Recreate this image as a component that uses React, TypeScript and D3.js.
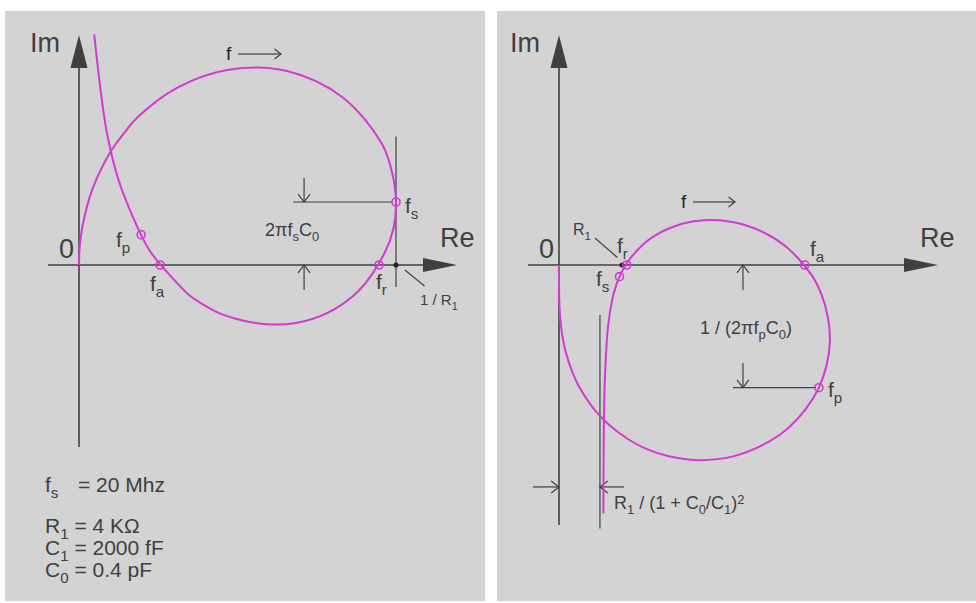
import * as d3 from "d3";

// crystal: fs = 20 MHz, R1 = 4 kOhm, C1 = 2000 fF, C0 = 0.4 pF

// left: admittance locus, Re / Im in mS
const admRe = [0, 0.0006, 0.0026, 0.0105, 0.025, 0.035, 0.047, 0.078, 0.118, 0.164, 0.208, 0.239, 0.247, 0.25, 0.248, 0.241, 0.221, 0.196, 0.171, 0.148, 0.129, 0.1125, 0.099, 0.087, 0.078, 0.056, 0.043, 0.031, 0.022, 0.017, 0.012];
const admIm = [0, 0.015, 0.03, 0.06, 0.09, 0.104, 0.118, 0.141, 0.155, 0.154, 0.133, 0.096, 0.073, 0.05, 0.029, 0.0095, -0.02, -0.038, -0.046, -0.047, -0.044, -0.039, -0.032, -0.024, -0.015, 0.011, 0.037, 0.068, 0.105, 0.139, 0.183];
const admMarks = [
  { name: "fs", re: 0.25, im: 0.05 },
  { name: "fr", re: 0.2366, im: 0 },
  { name: "fa", re: 0.064, im: 0 },
  { name: "fp", re: 0.049, im: 0.024 },
];

// right: impedance locus, Re / Im in kOhm
const impRe = [2.82, 2.85, 2.92, 3.11, 3.4, 3.6, 3.84, 4.14, 4.5, 5.46, 6.12, 6.94, 7.94, 9.18, 10.69, 12.44, 14.32, 16.03, 16.67, 17.07, 17.2, 16.99, 16.48, 15.65, 14.63, 13.47, 11.05, 8.82, 6.97, 5.51, 4.39, 3.17, 2.34, 1.94, 1.26, 0.86, 0.45, 0.26, 0.107, 0.029, 0.005, 0];
const impIm = [-16.4, -10.35, -7.35, -4.09, -2.18, -1.44, -0.77, -0.16, 0.41, 1.47, 1.96, 2.39, 2.75, 2.95, 2.89, 2.41, 1.29, -0.65, -1.95, -3.43, -5.01, -6.62, -8.14, -9.53, -10.69, -11.58, -12.63, -12.88, -12.63, -12.12, -11.5, -10.54, -9.66, -9.12, -8.0, -7.11, -5.83, -4.95, -3.84, -2.7, -1.72, 0];
const impMarks = [
  { name: "fs", re: 3.84, im: -0.77 },
  { name: "fr", re: 4.3, im: 0 },
  { name: "fa", re: 15.6, im: 0 },
  { name: "fp", re: 16.5, im: -8.1 },
];

const params = [
  ["R", "1", " = 4 KΩ"],
  ["C", "1", " = 2000 fF"],
  ["C", "0", " = 0.4 pF"],
];

const W = 976;
const H = 603;
const MAG = "#d23ad2";
const INK = "#404040";
const BG = "#d3d3d3";
const FONT = "'Liberation Sans', Arial, sans-serif";

// left scales (mS -> px)
const xL = d3.scaleLinear().domain([0, 0.25]).range([79, 396]);
const yL = d3.scaleLinear().domain([0, 0.1]).range([265, 139]);
// right scales (kOhm -> px)
const xR = d3.scaleLinear().domain([0, 10]).range([559, 716.5]);
const yR = d3.scaleLinear().domain([0, -10]).range([265, 416.5]);

type Part = [string, number?];

function Label({ x, y, size, parts, anchor }: { x: number; y: number; size: number; parts: Part[]; anchor?: string }) {
  let prev = 0;
  return (
    <text x={x} y={y} fontSize={size} fill={INK} textAnchor={anchor || "start"}>
      {parts.map(([t, s], i) => {
        const cur = s || 0;
        const dy = (cur - prev) * size * 0.3;
        prev = cur;
        return (
          <tspan key={i} dy={dy} fontSize={cur ? size * 0.72 : size}>
            {t}
          </tspan>
        );
      })}
    </text>
  );
}

// open V arrow head at tip, direction "up" | "down" | "left" | "right"
function Head({ x, y, dir, s = 6 }: { x: number; y: number; dir: string; s?: number }) {
  const l = s * 1.3;
  let pts = "";
  if (dir === "down") pts = `${x - s},${y - l} ${x},${y} ${x + s},${y - l}`;
  if (dir === "up") pts = `${x - s},${y + l} ${x},${y} ${x + s},${y + l}`;
  if (dir === "right") pts = `${x - l},${y - s} ${x},${y} ${x - l},${y + s}`;
  if (dir === "left") pts = `${x + l},${y - s} ${x},${y} ${x + l},${y + s}`;
  return <polyline points={pts} fill="none" stroke={INK} strokeWidth={1.2} />;
}

function Axes({ ox, oy, yTop, yBot, xLeft, xRight }: { ox: number; oy: number; yTop: number; yBot: number; xLeft: number; xRight: number }) {
  return (
    <g>
      <line x1={ox} y1={yTop + 20} x2={ox} y2={yBot} stroke={INK} strokeWidth={1.6} />
      <line x1={xLeft} y1={oy} x2={xRight - 20} y2={oy} stroke={INK} strokeWidth={1.6} />
      <polygon points={`${ox},${yTop} ${ox - 8.5},${yTop + 33} ${ox + 8.5},${yTop + 33}`} fill={INK} />
      <polygon points={`${xRight},${oy} ${xRight - 34},${oy - 7} ${xRight - 34},${oy + 7}`} fill={INK} />
    </g>
  );
}

export default function App() {
  const lineL = d3
    .line<number>()
    .x((_, i) => xL(admRe[i]))
    .y((d) => yL(d))
    .curve(d3.curveCatmullRom.alpha(0.5));
  const lineR = d3
    .line<number>()
    .x((_, i) => xR(impRe[i]))
    .y((d) => yR(d))
    .curve(d3.curveCatmullRom.alpha(0.5));

  // left dimension geometry
  const dimXL = xL(0.1775);
  const fsY = yL(admMarks[0].im);
  // right dimension geometry
  const dimXR = xR(11.68);
  const fpY = yR(impMarks[3].im);
  const asym = xR(2.6);
  const dimY = yR(-14.65);

  return (
    <div style={{ position: "absolute", left: 0, top: 0 }}>
      <svg width={W} height={H} style={{ display: "block", fontFamily: FONT }}>
        <rect width={W} height={H} fill="#fff" />
        <rect x={5} y={11} width={480} height={590} fill={BG} />
        <rect x={497} y={11} width={479} height={590} fill={BG} />

        {/* ---------- left panel: admittance ---------- */}
        <Axes ox={xL(0)} oy={yL(0)} yTop={35} yBot={447} xLeft={48} xRight={457} />
        <text x={30} y={52} fontSize={27} fill={INK}>Im</text>
        <text x={59} y={258} fontSize={27} fill={INK}>0</text>
        <text x={440} y={247} fontSize={27} fill={INK}>Re</text>

        {/* 1/R1 marker line */}
        <line x1={xL(0.25)} y1={yL(0.102)} x2={xL(0.25)} y2={yL(-0.0175)} stroke={INK} strokeWidth={1.2} />
        <circle cx={xL(0.25)} cy={yL(0)} r={2.5} fill="#222" />
        <line x1={xL(0.257)} y1={yL(-0.004)} x2={xL(0.2725)} y2={yL(-0.0167)} stroke={INK} strokeWidth={1.2} />
        <Label x={420} y={305} size={15} parts={[["1 / R"], ["1", 1]]} />

        {/* 2 pi fs C0 dimension */}
        <line x1={xL(0.1688)} y1={fsY} x2={xL(0.25) - 3} y2={fsY} stroke={INK} strokeWidth={1.2} />
        <line x1={dimXL} y1={yL(0.069)} x2={dimXL} y2={fsY} stroke={INK} strokeWidth={1.2} />
        <Head x={dimXL} y={fsY} dir="down" />
        <line x1={dimXL} y1={yL(0)} x2={dimXL} y2={yL(-0.0198)} stroke={INK} strokeWidth={1.2} />
        <Head x={dimXL} y={yL(0)} dir="up" />
        <Label x={265} y={236} size={18} parts={[["2πf"], ["s", 1], ["C"], ["0", 1]]} />

        <path d={lineL(admIm) || ""} fill="none" stroke={MAG} strokeWidth={2} />
        {admMarks.map((m) => (
          <circle key={m.name} cx={xL(m.re)} cy={yL(m.im)} r={4} fill="none" stroke={MAG} strokeWidth={1.6} />
        ))}
        <Label x={405} y={213} size={21} parts={[["f"], ["s", 1]]} />
        <Label x={376} y={289} size={21} parts={[["f"], ["r", 1]]} />
        <Label x={150} y={291} size={21} parts={[["f"], ["a", 1]]} />
        <Label x={116} y={247} size={21} parts={[["f"], ["p", 1]]} />

        {/* frequency direction */}
        <text x={226} y={60} fontSize={19} fill="#222">f</text>
        <line x1={238} y1={54} x2={281} y2={54} stroke="#222" strokeWidth={1.2} />
        <Head x={281} y={54} dir="right" s={5} />

        {/* parameters */}
        <Label x={45} y={492} size={21} parts={[["f"], ["s", 1]]} />
        <text x={78} y={492} fontSize={21} fill={INK}>= 20 Mhz</text>
        {params.map((p, i) => (
          <Label key={i} x={45} y={533 + i * 22} size={21} parts={[[p[0]], [p[1], 1], [p[2]]]} />
        ))}

        {/* ---------- right panel: impedance ---------- */}
        <Axes ox={xR(0)} oy={yR(0)} yTop={35} yBot={525} xLeft={528} xRight={938} />
        <text x={510} y={52} fontSize={27} fill={INK}>Im</text>
        <text x={539} y={258} fontSize={27} fill={INK}>0</text>
        <text x={920} y={247} fontSize={27} fill={INK}>Re</text>

        {/* R1 point */}
        <circle cx={xR(4.0)} cy={yR(0)} r={2.5} fill="#222" />
        <line x1={595} y1={238} x2={xR(3.7)} y2={yR(0.5)} stroke={INK} strokeWidth={1.2} />
        <Label x={573} y={235} size={16} parts={[["R"], ["1", 1]]} />

        {/* 1/(2 pi fp C0) dimension */}
        <line x1={dimXR} y1={yR(0)} x2={dimXR} y2={yR(-1.65)} stroke={INK} strokeWidth={1.2} />
        <Head x={dimXR} y={yR(0)} dir="up" />
        <line x1={dimXR} y1={yR(-6.47)} x2={dimXR} y2={fpY} stroke={INK} strokeWidth={1.2} />
        <Head x={dimXR} y={fpY} dir="down" />
        <line x1={xR(11.05)} y1={fpY} x2={xR(16.5) - 3} y2={fpY} stroke={INK} strokeWidth={1.2} />
        <Label x={700} y={334} size={18} parts={[["1 / (2πf"], ["p", 1], ["C"], ["0", 1], [")"]]} />

        {/* R1/(1+C0/C1)^2 dimension */}
        <line x1={asym} y1={yR(-3.3)} x2={asym} y2={yR(-17.4)} stroke={INK} strokeWidth={1.2} />
        <line x1={533} y1={dimY} x2={xR(0)} y2={dimY} stroke={INK} strokeWidth={1.2} />
        <Head x={xR(0)} y={dimY} dir="right" />
        <line x1={624} y1={dimY} x2={asym} y2={dimY} stroke={INK} strokeWidth={1.2} />
        <Head x={asym} y={dimY} dir="left" />
        <Label x={614} y={509} size={18} parts={[["R"], ["1", 1], [" / (1 + C"], ["0", 1], ["/C"], ["1", 1], [")"], ["2", -1]]} />

        <path d={lineR(impIm) || ""} fill="none" stroke={MAG} strokeWidth={2} />
        {impMarks.map((m) => (
          <circle key={m.name} cx={xR(m.re)} cy={yR(m.im)} r={4} fill="none" stroke={MAG} strokeWidth={1.6} />
        ))}
        <Label x={617} y={253} size={21} parts={[["f"], ["r", 1]]} />
        <Label x={596} y={286} size={21} parts={[["f"], ["s", 1]]} />
        <Label x={810} y={256} size={21} parts={[["f"], ["a", 1]]} />
        <Label x={828} y={397} size={21} parts={[["f"], ["p", 1]]} />

        <text x={681} y={208} fontSize={19} fill="#222">f</text>
        <line x1={693} y1={202} x2={735} y2={202} stroke="#222" strokeWidth={1.2} />
        <Head x={735} y={202} dir="right" s={5} />
      </svg>
    </div>
  );
}
